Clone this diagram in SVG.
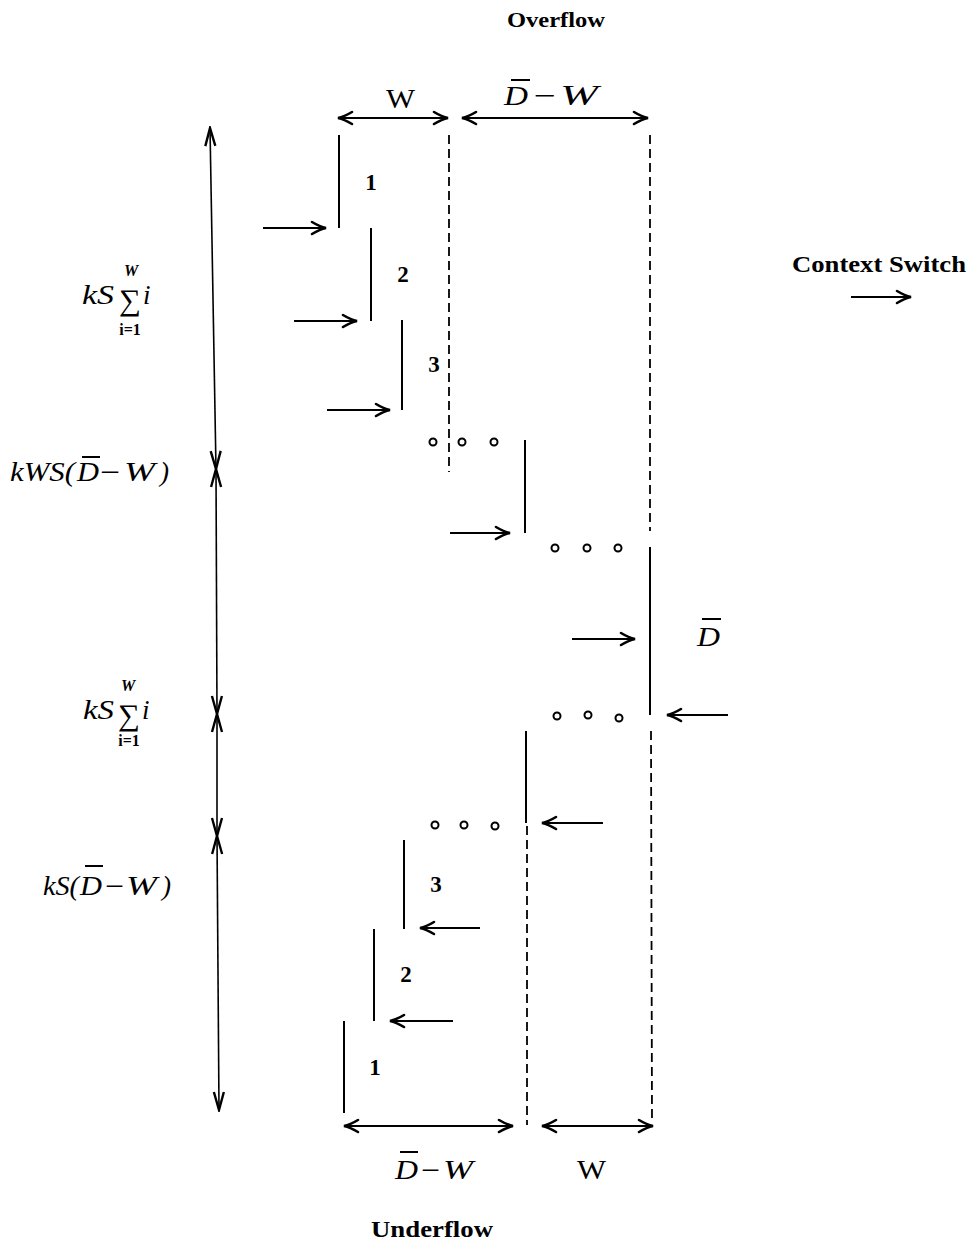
<svg xmlns="http://www.w3.org/2000/svg" width="974" height="1248" viewBox="0 0 974 1248">
  <style>
    .bold { font-family: "Liberation Serif", "DejaVu Serif", serif; font-weight: bold; fill: #000; }
    .rm { font-family: "Liberation Serif", "DejaVu Serif", serif; fill: #000; }
    .it { font-family: "Liberation Serif", "DejaVu Serif", serif; font-style: italic; fill: #000; }
    .num { font-family: "Liberation Serif", "DejaVu Serif", serif; font-weight: bold; font-size: 23px; text-anchor: middle; fill: #000; }
    .bar { stroke: #000; stroke-width: 2; }
    .step { stroke: #000; stroke-width: 2; fill: none; }
    .dash { stroke: #000; stroke-width: 1.8; fill: none; stroke-dasharray: 9 5; }
    .arr { stroke: #000; stroke-width: 2.2; fill: none; marker-end: url(#head); }
    .dim { stroke: #000; stroke-width: 2.2; fill: none; marker-start: url(#head); marker-end: url(#head); }
    .vdim { stroke: #000; stroke-width: 1.6; fill: none; marker-start: url(#vhead); marker-end: url(#vhead); }
    .dot { stroke: #000; stroke-width: 2; fill: none; }
  </style>
  <defs>
    <marker id="head" viewBox="-16 -8 18 16" refX="0" refY="0" markerWidth="18" markerHeight="16" markerUnits="userSpaceOnUse" orient="auto-start-reverse">
      <path d="M -14 -6 Q -6 -1.2 0 0 Q -6 1.2 -14 6" fill="none" stroke="#000" stroke-width="2.6" stroke-linecap="round"/>
    </marker>
    <marker id="vhead" viewBox="-20 -7 22 14" refX="0" refY="0" markerWidth="22" markerHeight="14" markerUnits="userSpaceOnUse" orient="auto-start-reverse">
      <path d="M -18 -5 L 0 0 L -18 5" fill="none" stroke="#000" stroke-width="2.4"/>
    </marker>
  </defs>

  <!-- headings -->
  <g id="overflow-label"><text class="bold" x="507" y="27" font-size="22" textLength="98" lengthAdjust="spacingAndGlyphs">Overflow</text></g>
  <g id="underflow-label"><text class="bold" x="371" y="1237" font-size="23" textLength="122" lengthAdjust="spacingAndGlyphs">Underflow</text></g>
  <g id="context-switch">
    <text class="bold" x="792" y="272" font-size="23" textLength="174" lengthAdjust="spacingAndGlyphs">Context Switch</text>
    <line class="arr" x1="851" y1="297" x2="911" y2="297"/>
  </g>

  <!-- top dimension labels -->
  <g id="top-w"><text class="rm" x="386" y="108" font-size="27" textLength="29" lengthAdjust="spacingAndGlyphs">W</text></g>
  <g id="top-dw">
    <text class="it" x="504" y="105" font-size="28" textLength="24" lengthAdjust="spacingAndGlyphs">D</text>
    <line class="bar" x1="511" y1="80" x2="530" y2="80"/>
    <text class="rm" x="534" y="105" font-size="28" textLength="22" lengthAdjust="spacingAndGlyphs">−</text>
    <text class="it" x="560" y="105" font-size="30" textLength="38" lengthAdjust="spacingAndGlyphs">W</text>
  </g>

  <!-- bottom dimension labels -->
  <g id="bottom-dw">
    <text class="it" x="395" y="1179" font-size="27" textLength="23" lengthAdjust="spacingAndGlyphs">D</text>
    <line class="bar" x1="400" y1="1152" x2="418" y2="1152"/>
    <text class="rm" x="421" y="1179" font-size="27" textLength="19" lengthAdjust="spacingAndGlyphs">−</text>
    <text class="it" x="443" y="1179" font-size="28" textLength="30" lengthAdjust="spacingAndGlyphs">W</text>
  </g>
  <g id="bottom-w"><text class="rm" x="577" y="1179" font-size="27" textLength="29" lengthAdjust="spacingAndGlyphs">W</text></g>

  <!-- D-bar at the right -->
  <g id="dbar-label">
    <text class="it" x="697" y="646" font-size="27" textLength="23" lengthAdjust="spacingAndGlyphs">D</text>
    <line class="bar" x1="702" y1="619" x2="721" y2="619"/>
  </g>

  <!-- left-hand cost labels -->
  <g id="cost-1">
    <text class="it" x="82" y="304" font-size="27" textLength="32" lengthAdjust="spacingAndGlyphs">kS</text>
    <text class="rm" x="119" y="310" font-size="30" textLength="22" lengthAdjust="spacingAndGlyphs">∑</text>
    <text class="it" x="143" y="304" font-size="27">i</text>
    <text class="it" x="131" y="276" font-size="16" text-anchor="middle" font-weight="bold">W</text>
    <text class="rm" x="130" y="335" font-size="16" text-anchor="middle" font-weight="bold">i=1</text>
  </g>
  <g id="cost-2">
    <text class="it" x="10" y="481" font-size="27" textLength="65" lengthAdjust="spacingAndGlyphs">kWS(</text>
    <text class="it" x="77" y="481" font-size="27" textLength="22" lengthAdjust="spacingAndGlyphs">D</text>
    <line class="bar" x1="82" y1="457" x2="100" y2="457"/>
    <text class="rm" x="100" y="481" font-size="27" textLength="20" lengthAdjust="spacingAndGlyphs">−</text>
    <text class="it" x="124" y="481" font-size="28" textLength="31" lengthAdjust="spacingAndGlyphs">W</text>
    <text class="it" x="160" y="481" font-size="27">)</text>
  </g>
  <g id="cost-3">
    <text class="it" x="83" y="719" font-size="27" textLength="31" lengthAdjust="spacingAndGlyphs">kS</text>
    <text class="rm" x="118" y="725" font-size="30" textLength="22" lengthAdjust="spacingAndGlyphs">∑</text>
    <text class="it" x="142" y="719" font-size="27">i</text>
    <text class="it" x="128" y="691" font-size="16" text-anchor="middle" font-weight="bold">W</text>
    <text class="rm" x="129" y="746" font-size="16" text-anchor="middle" font-weight="bold">i=1</text>
  </g>
  <g id="cost-4">
    <text class="it" x="43" y="895" font-size="27" textLength="36" lengthAdjust="spacingAndGlyphs">kS(</text>
    <text class="it" x="80" y="895" font-size="27" textLength="22" lengthAdjust="spacingAndGlyphs">D</text>
    <line class="bar" x1="85" y1="866" x2="103" y2="866"/>
    <text class="rm" x="105" y="895" font-size="27" textLength="19" lengthAdjust="spacingAndGlyphs">−</text>
    <text class="it" x="126" y="895" font-size="28" textLength="31" lengthAdjust="spacingAndGlyphs">W</text>
    <text class="it" x="162" y="895" font-size="27">)</text>
  </g>

  <!-- overflow staircase -->
  <g id="step-up-1">
    <line class="step" x1="339" y1="135" x2="339" y2="228"/>
    <text class="num" x="371" y="190">1</text>
  </g>
  <g id="step-up-2">
    <line class="step" x1="371" y1="228" x2="371" y2="321"/>
    <text class="num" x="403" y="282">2</text>
  </g>
  <g id="step-up-3">
    <line class="step" x1="402" y1="320" x2="402" y2="410"/>
    <text class="num" x="434" y="372">3</text>
  </g>
  <g id="dots-up-1">
    <circle class="dot" cx="433" cy="442" r="3.5"/>
    <circle class="dot" cx="462" cy="442" r="3.5"/>
    <circle class="dot" cx="494" cy="442" r="3.5"/>
  </g>
  <g id="step-up-w">
    <line class="step" x1="525" y1="440" x2="525" y2="533"/>
  </g>
  <g id="dots-up-2">
    <circle class="dot" cx="555" cy="548" r="3.5"/>
    <circle class="dot" cx="587" cy="548" r="3.5"/>
    <circle class="dot" cx="618" cy="548" r="3.5"/>
  </g>
  <g id="step-top">
    <line class="step" x1="650" y1="547" x2="650" y2="715"/>
  </g>

  <!-- underflow staircase -->
  <g id="dots-down-1">
    <circle class="dot" cx="557" cy="716" r="3.5"/>
    <circle class="dot" cx="588" cy="715" r="3.5"/>
    <circle class="dot" cx="619" cy="718" r="3.5"/>
  </g>
  <g id="step-down-w">
    <line class="step" x1="526" y1="731" x2="526" y2="823"/>
  </g>
  <g id="dots-down-2">
    <circle class="dot" cx="435" cy="825" r="3.5"/>
    <circle class="dot" cx="464" cy="825" r="3.5"/>
    <circle class="dot" cx="495" cy="826" r="3.5"/>
  </g>
  <g id="step-down-3">
    <line class="step" x1="404" y1="840" x2="404" y2="929"/>
    <text class="num" x="436" y="892">3</text>
  </g>
  <g id="step-down-2">
    <line class="step" x1="374" y1="929" x2="374" y2="1021"/>
    <text class="num" x="406" y="982">2</text>
  </g>
  <g id="step-down-1">
    <line class="step" x1="344" y1="1021" x2="344" y2="1113"/>
    <text class="num" x="375" y="1075">1</text>
  </g>

  <!-- connectors: arrows, guide lines and dimension lines -->
  <g id="connectors">
    <!-- window boundaries -->
    <line class="dash" x1="449" y1="135" x2="449" y2="472"/>
    <line class="dash" x1="650" y1="135" x2="650" y2="531"/>
    <line class="dash" x1="651" y1="731" x2="652" y2="1122"/>
    <line class="dash" x1="527" y1="826" x2="527" y2="1125"/>

    <!-- top dimensions -->
    <line class="dim" x1="338" y1="118" x2="448" y2="118"/>
    <line class="dim" x1="462" y1="118" x2="648" y2="118"/>
    <!-- bottom dimensions -->
    <line class="dim" x1="344" y1="1126" x2="513" y2="1126"/>
    <line class="dim" x1="542" y1="1126" x2="653" y2="1126"/>

    <!-- calls (pointing right) -->
    <line class="arr" x1="263" y1="228" x2="326" y2="228"/>
    <line class="arr" x1="294" y1="321" x2="357" y2="321"/>
    <line class="arr" x1="327" y1="410" x2="390" y2="410"/>
    <line class="arr" x1="450" y1="533" x2="510" y2="533"/>
    <line class="arr" x1="572" y1="639" x2="635" y2="639"/>

    <!-- returns (pointing left) -->
    <line class="arr" x1="728" y1="715" x2="667" y2="715"/>
    <line class="arr" x1="603" y1="823" x2="542" y2="823"/>
    <line class="arr" x1="480" y1="928" x2="420" y2="928"/>
    <line class="arr" x1="453" y1="1021" x2="390" y2="1021"/>

    <!-- cost axis -->
    <line class="vdim" x1="210" y1="128" x2="216" y2="469"/>
    <line class="vdim" x1="216" y1="469" x2="217" y2="714"/>
    <line class="vdim" x1="217" y1="714" x2="217" y2="836"/>
    <line class="vdim" x1="217" y1="836" x2="219" y2="1110"/>
  </g>
</svg>
